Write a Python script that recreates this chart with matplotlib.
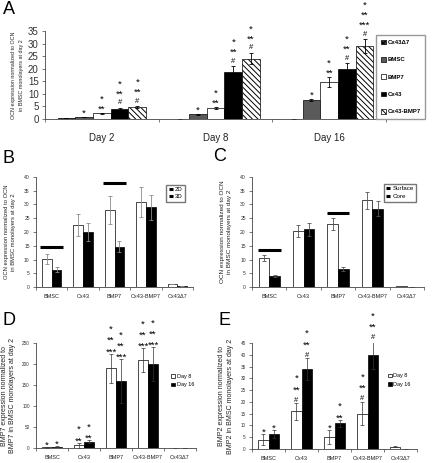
import numpy as np
import matplotlib
matplotlib.use('Agg')
from matplotlib import pyplot as plt

plt.rcParams['font.family'] = ['Liberation Sans', 'DejaVu Sans']
plt.rcParams['hatch.linewidth'] = 0.7

# panel A data
days = ["Day 2", "Day 8", "Day 16"]
a_series = ["Cx43\u03947", "BMSC", "BMP7", "Cx43", "Cx43-BMP7"]
a_vals = [[0.3, 0.0, 0.0],
          [0.7, 1.8, 7.5],
          [2.2, 4.3, 14.7],
          [4.0, 18.7, 20.0],
          [4.7, 24.0, 29.0]]
a_err = [[0.0, 0.0, 0.0],
         [0.1, 0.3, 0.5],
         [0.2, 0.4, 2.0],
         [0.4, 2.2, 2.2],
         [0.4, 2.3, 2.8]]
a_sig = [[[], [], []],
         [["*"], ["*"], ["*"]],
         [["*", "**"], ["*", "**"], ["*", "**"]],
         [["*", "**", "#"], ["*", "**", "#"], ["*", "**", "#"]],
         [["*", "**", "#"], ["*", "**", "#"], ["*", "**", "***", "#"]]]

groups = ["BMSC", "Cx43", "BMP7", "Cx43-BMP7", "Cx43\u03947"]

# panel B
b_2d = [10.2, 22.5, 28.0, 31.0, 1.0]
b_2d_err = [1.8, 4.0, 5.0, 5.5, 0.0]
b_3d = [6.3, 20.0, 14.6, 29.0, 0.2]
b_3d_err = [1.0, 3.3, 2.0, 4.5, 0.0]
b_lines = [(0, 14.5), (2, 37.8)]

# panel C
c_surf = [10.5, 20.3, 23.0, 31.5, 0.4]
c_surf_err = [1.2, 2.2, 2.2, 3.0, 0.0]
c_core = [4.0, 21.0, 6.7, 28.5, 0.0]
c_core_err = [0.5, 2.3, 0.7, 2.8, 0.0]
c_lines = [(0, 13.5), (2, 27.0)]

# panel D
d_day8 = [2.0, 6.0, 190.0, 210.0, 0.0]
d_day8_err = [1.0, 7.0, 35.0, 28.0, 0.0]
d_day16 = [3.0, 15.0, 160.0, 200.0, 0.0]
d_day16_err = [1.0, 3.0, 52.0, 40.0, 0.0]
d_sig8 = [["*"], ["*", "**"], ["*", "**", "***"], ["*", "**", "***"], []]
d_sig16 = [["*"], ["*", "**"], ["*", "**", "***"], ["*", "**", "***"], []]

# panel E
e_day8 = [4.0, 16.0, 5.0, 15.0, 1.0]
e_day8_err = [2.5, 3.5, 3.0, 5.0, 0.3]
e_day16 = [6.3, 34.0, 11.0, 40.0, 0.0]
e_day16_err = [1.7, 4.5, 1.5, 6.0, 0.0]
e_sig8 = [["*"], ["*", "**", "#"], ["*"], ["*", "**", "#"], []]
e_sig16 = [["*"], ["*", "**", "#"], ["*", "**"], ["*", "**", "#"], []]

W, H = 432, 463
fig = plt.figure(figsize=(W / 100, H / 100), dpi=100)


def box(l, t, r, b):
    return [l / W, 1 - b / H, (r - l) / W, (b - t) / H]


def stack(ax, x, y, syms, step, off0):
    for i, s in enumerate(reversed(syms)):
        if s == "#":
            ax.annotate(s, (x, y), xytext=(0, off0 + i * step + 0.6), textcoords='offset points',
                        ha='center', va='bottom', fontsize=5.4, annotation_clip=False)
        else:
            ax.annotate(s, (x, y), xytext=(0, off0 + i * step - 1), textcoords='offset points',
                        ha='center', va='bottom', fontsize=6.8, annotation_clip=False)


def style(ax, labels, fs_tick, fs_cat):
    for s in ['top', 'right']:
        ax.spines[s].set_visible(False)
    for s in ['left', 'bottom']:
        ax.spines[s].set_linewidth(0.6)
        ax.spines[s].set_color('#444444')
    n = len(labels)
    ax.set_xlim(-0.5, n - 0.5)
    ax.set_xticks(range(n))
    ax.set_xticklabels(labels, fontsize=fs_cat, color='#222222')
    ax.set_xticks(np.arange(-0.5, n, 1.0), minor=True)
    ax.tick_params(axis='x', which='major', length=0, pad=5)
    ax.tick_params(axis='x', which='minor', length=2.5, width=0.5, color='#444444')
    ax.tick_params(axis='y', labelsize=fs_tick, length=2.5, width=0.5, color='#444444',
                   labelcolor='#333333', pad=2)


# ---------- A ----------
axA = fig.add_axes(box(45, 31, 386, 119))
bw = 0.156
xA = np.arange(3)
colsA = ['#3a3a3a', '#5a5a5a', 'white', 'black', 'white']
hatA = ['xxxxx', None, None, None, '\\\\\\\\\\\\']
for k in range(5):
    xs = xA + (k - 2) * bw
    axA.bar(xs, a_vals[k], bw, color=colsA[k], edgecolor='black', linewidth=0.5,
            hatch=hatA[k], label=a_series[k],
            yerr=a_err[k], error_kw=dict(elinewidth=0.6, capsize=1.2, capthick=0.6, ecolor='black'))
    for j in range(3):
        stack(axA, xs[j], a_vals[k][j] + a_err[k][j], a_sig[k][j], 7.3, 0.5)
axA.set_ylim(0, 35)
axA.set_yticks(range(0, 36, 5))
style(axA, days, 7, 7)
axA.tick_params(axis='x', pad=10)
axA.set_ylabel("OCN expression normalized to OCN\nin BMSC monolayers at day 2", fontsize=3.9,
               color='#222222', labelpad=3, linespacing=1.7)
hA, lA = axA.get_legend_handles_labels()
fig.legend(hA, lA, loc='upper left', bbox_to_anchor=(376 / W, 1 - 35 / H),
           prop=dict(size=4.3, weight='bold'), labelspacing=2.0, handlelength=0.8,
           handleheight=0.8, handletextpad=0.3, borderpad=0.8, borderaxespad=0,
           fancybox=False, edgecolor='#999999', framealpha=1)


def pair(ax, v1, e1, v2, e2, ecol, capsize, lw_e):
    x = np.arange(5)
    w = 0.31
    ax.bar(x - w / 2, v1, w, color='white', edgecolor='black', linewidth=0.5,
           yerr=e1, error_kw=dict(elinewidth=lw_e, capsize=capsize, capthick=lw_e, ecolor=ecol))
    ax.bar(x + w / 2, v2, w, color='black', edgecolor='black', linewidth=0.5,
           yerr=e2, error_kw=dict(elinewidth=lw_e, capsize=capsize, capthick=lw_e, ecolor=ecol))
    return x, w


# ---------- B ----------
axB = fig.add_axes(box(36, 177, 193, 287))
x, w = pair(axB, b_2d, b_2d_err, b_3d, b_3d_err, '#8a8a8a', 1.2, 0.6)
for g, yv in b_lines:
    axB.plot([g - 0.36, g + 0.36], [yv, yv], color='black', lw=2.2, solid_capstyle='butt')
axB.set_ylim(0, 40)
axB.set_yticks(range(0, 41, 5))
style(axB, groups, 3.6, 4)
axB.set_ylabel("OCN expression normalized to OCN\nin BMSC monolayers at day 2", fontsize=4.2,
               color='#222222', labelpad=6, linespacing=1.4)
axB.legend(["2D", "3D"], loc='upper left', bbox_to_anchor=(0.83, 0.93), fontsize=4.3,
           handlelength=0.7, handleheight=0.7, handletextpad=0.3, labelspacing=0.3,
           borderpad=0.4, borderaxespad=0, fancybox=False, edgecolor='#777777', framealpha=1)

# ---------- C ----------
axC = fig.add_axes(box(252, 177, 424, 287))
x, w = pair(axC, c_surf, c_surf_err, c_core, c_core_err, '#555555', 1.2, 0.6)
for g, yv in c_lines:
    axC.plot([g - 0.33, g + 0.33], [yv, yv], color='black', lw=2.2, solid_capstyle='butt')
axC.set_ylim(0, 40)
axC.set_yticks(range(0, 41, 5))
style(axC, groups, 3.6, 4)
axC.set_ylabel("OCN expression normalized to OCN\nin BMSC monolayers at day 2", fontsize=4.6,
               color='#222222', labelpad=6, linespacing=1.4)
axC.legend(["Surface", "Core"], loc='upper left', bbox_to_anchor=(0.765, 0.94), fontsize=4.5,
           handlelength=0.7, handleheight=0.7, handletextpad=0.3, labelspacing=0.4,
           borderpad=0.4, borderaxespad=0, fancybox=False, edgecolor='#777777', framealpha=1)

# ---------- D ----------
axD = fig.add_axes(box(36, 343, 196, 448))
x, w = pair(axD, d_day8, d_day8_err, d_day16, d_day16_err, '#333333', 1.2, 0.5)
for j in range(5):
    stack(axD, x[j] - w / 2, d_day8[j] + d_day8_err[j], d_sig8[j], 8, -1)
    stack(axD, x[j] + w / 2, d_day16[j] + d_day16_err[j], d_sig16[j], 8, -1)
axD.set_ylim(0, 250)
axD.set_yticks(range(0, 251, 50))
style(axD, groups, 3.3, 4)
axD.set_ylabel("BMP7 expression normalized to\nBMP7 in BMSC monolayers at day 2", fontsize=5,
               color='#222222', labelpad=4, linespacing=1.3)
axD.legend(["Day 8", "Day 16"], loc='center left', bbox_to_anchor=(0.83, 0.64), fontsize=4,
           handlelength=0.7, handleheight=0.7, handletextpad=0.3, labelspacing=0.6,
           borderaxespad=0, frameon=False)

# ---------- E ----------
axE = fig.add_axes(box(252, 343, 417, 449))
x, w = pair(axE, e_day8, e_day8_err, e_day16, e_day16_err, '#333333', 1.2, 0.5)
for j in range(5):
    stack(axE, x[j] - w / 2, e_day8[j] + e_day8_err[j], e_sig8[j], 8.3, -1)
    stack(axE, x[j] + w / 2, e_day16[j] + e_day16_err[j], e_sig16[j], 8.3, -1)
axE.set_ylim(0, 45)
axE.set_yticks(range(0, 46, 5))
style(axE, groups, 3.3, 4)
axE.set_ylabel("BMP2 expression normalized to\nBMP2 in BMSC monolayers at day 2", fontsize=5,
               color='#222222', labelpad=5, linespacing=1.3)
axE.legend(["Day 8", "Day 16"], loc='center left', bbox_to_anchor=(0.81, 0.65), fontsize=4,
           handlelength=0.7, handleheight=0.7, handletextpad=0.3, labelspacing=0.6,
           borderaxespad=0, frameon=False)

# panel letters
for lab, px, py in [("A", 3, 1), ("B", 3, 150), ("C", 213, 148), ("D", 2, 312), ("E", 218, 312)]:
    fig.text(px / W, 1 - py / H, lab, fontsize=13, va='top', ha='left')

fig.savefig('out.png', dpi=100)
